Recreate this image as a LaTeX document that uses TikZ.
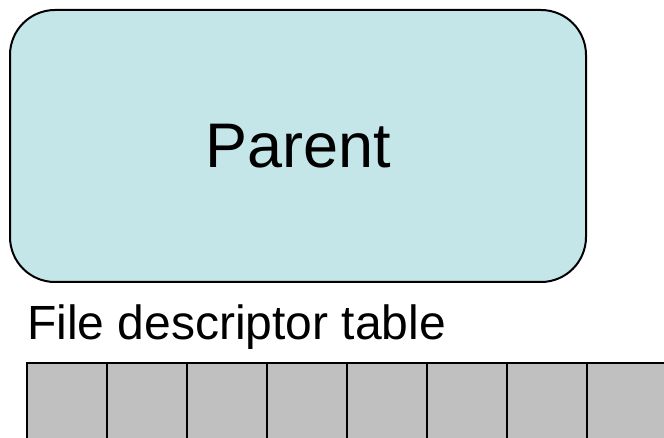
\documentclass[tikz,border=0pt]{standalone}
\usepackage{fontspec}
\setmainfont{Liberation Sans}
\definecolor{parentfill}{RGB}{196,230,232}
\definecolor{cellfill}{RGB}{192,192,192}
\begin{document}
\begin{tikzpicture}[x=1pt,y=-1pt,
  parentbox/.style={draw=black,line width=2pt,fill=parentfill,rounded corners=45pt,
    minimum width=576pt,minimum height=272pt,inner sep=0pt,font=\fontsize{63}{70}\selectfont},
  cellbox/.style={draw=black,line width=2pt,fill=cellfill,minimum width=80pt,minimum height=120pt,inner sep=0pt,anchor=north west},
  label/.style={anchor=base west,inner sep=0pt,font=\fontsize{48}{52}\selectfont}]
\useasboundingbox (0,0) rectangle (664,438);
\clip (0,0) rectangle (664,438);
\node[parentbox] (parent) at (298,146) {Parent};
\node[label] (fdt) at (27,339) {File descriptor table};
\foreach \i in {0,...,7} {
  \node[cellbox] (c\i) at (26+80*\i,362) {};
}
\end{tikzpicture}
\end{document}
